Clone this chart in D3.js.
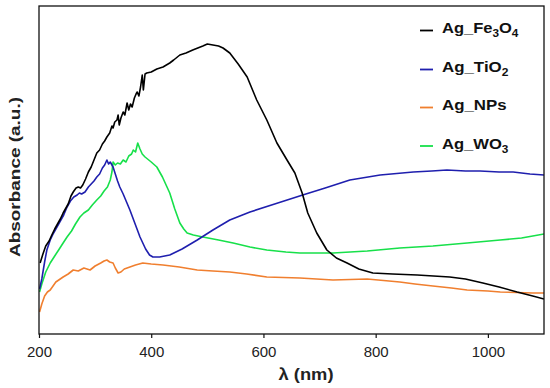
<!DOCTYPE html>
<html>
<head>
<meta charset="utf-8">
<script src="https://cdn.jsdelivr.net/npm/d3@7"></script>
<style>
  html, body { margin: 0; padding: 0; background: #fff; }
  svg { display: block; font-family: "Liberation Sans", Arial, sans-serif; }
</style>
</head>
<body>
<svg id="chart" width="550" height="388"></svg>
<script>
// ---- data (wavelength nm, absorbance a.u.) ----
const xTicks = [200, 400, 600, 800, 1000];
const seriesNames = ["Ag_Fe3O4", "Ag_TiO2", "Ag_NPs", "Ag_WO3"];

const fe3o4 = [[202,0.71],[207,0.80],[212,0.88],[218,0.93],[222,0.98],[228,1.05],[233,1.10],[238,1.15],[243,1.21],[248,1.26],[252,1.30],[257,1.38],[261,1.42],[266,1.46],[270,1.47],[274,1.46],[278,1.49],[283,1.55],[288,1.62],[293,1.67],[298,1.74],[303,1.81],[308,1.84],[313,1.90],[317,1.93],[321,1.97],[326,2.01],[330,2.08],[332,2.06],[335,2.12],[339,2.14],[341,2.19],[343,2.09],[346,2.16],[350,2.22],[353,2.19],[357,2.31],[360,2.24],[363,2.30],[366,2.27],[370,2.36],[373,2.40],[375,2.42],[378,2.38],[381,2.47],[384,2.59],[386,2.44],[389,2.60],[392,2.61],[400,2.62],[410,2.65],[421,2.67],[433,2.71],[440,2.74],[451,2.79],[462,2.81],[474,2.84],[483,2.86],[492,2.88],[500,2.90],[510,2.89],[520,2.88],[528,2.86],[540,2.81],[555,2.70],[571,2.57],[588,2.34],[606,2.14],[624,1.91],[642,1.74],[656,1.61],[669,1.41],[679,1.21],[695,1.01],[713,0.84],[730,0.76],[749,0.71],[770,0.65],[795,0.61],[830,0.60],[874,0.59],[932,0.57],[960,0.55],[991,0.51],[1020,0.47],[1052,0.42],[1080,0.38],[1100,0.35]];

const tio2 = [[201,0.45],[205,0.55],[210,0.72],[214,0.84],[220,0.94],[226,1.01],[232,1.07],[238,1.13],[244,1.19],[250,1.27],[256,1.33],[262,1.37],[268,1.39],[272,1.41],[276,1.40],[282,1.42],[288,1.47],[293,1.50],[298,1.53],[303,1.57],[308,1.60],[313,1.66],[317,1.69],[321,1.74],[324,1.70],[327,1.72],[332,1.67],[336,1.60],[340,1.53],[344,1.47],[350,1.40],[356,1.32],[362,1.24],[370,1.12],[380,0.97],[390,0.85],[397,0.79],[403,0.77],[415,0.77],[433,0.79],[455,0.85],[482,0.94],[510,1.04],[540,1.14],[576,1.22],[620,1.30],[670,1.39],[710,1.46],[754,1.54],[808,1.59],[867,1.62],[900,1.63],[927,1.64],[960,1.63],[986,1.63],[1020,1.62],[1045,1.62],[1075,1.60],[1100,1.59]];

const nps = [[201,0.22],[205,0.30],[210,0.38],[215,0.42],[220,0.44],[230,0.52],[243,0.57],[252,0.60],[261,0.64],[270,0.63],[280,0.66],[291,0.64],[300,0.68],[310,0.71],[316,0.73],[321,0.74],[326,0.72],[332,0.71],[336,0.66],[341,0.61],[346,0.62],[352,0.65],[362,0.67],[372,0.69],[385,0.71],[400,0.70],[421,0.69],[450,0.67],[482,0.64],[510,0.63],[540,0.62],[570,0.60],[606,0.57],[665,0.56],[724,0.54],[785,0.55],[843,0.52],[870,0.50],[902,0.48],[935,0.46],[963,0.44],[1000,0.43],[1022,0.42],[1080,0.41],[1100,0.41]];

const wo3 = [[201,0.42],[205,0.50],[212,0.62],[220,0.71],[228,0.78],[235,0.84],[243,0.91],[250,0.97],[258,1.03],[265,1.10],[273,1.17],[280,1.21],[288,1.24],[295,1.29],[303,1.34],[310,1.38],[316,1.43],[322,1.47],[327,1.54],[330,1.62],[332,1.72],[336,1.69],[340,1.71],[345,1.70],[350,1.74],[355,1.72],[360,1.78],[365,1.80],[368,1.84],[372,1.82],[376,1.91],[380,1.85],[384,1.80],[389,1.77],[400,1.72],[410,1.67],[420,1.57],[433,1.41],[442,1.25],[451,1.11],[458,1.05],[464,1.01],[475,0.99],[492,0.97],[520,0.94],[546,0.91],[576,0.87],[606,0.84],[640,0.82],[665,0.81],[724,0.81],[785,0.83],[843,0.86],[902,0.88],[963,0.91],[1022,0.94],[1060,0.96],[1080,0.98],[1100,1.00]];

// ---- layout ----
const svg = d3.select("#chart");
const L = 39, R = 544, T = 6, B = 334;
const x = d3.scaleLinear().domain([200, 1100]).range([L, R]);
const y = d3.scaleLinear().domain([0, 3.28]).range([B, T]);

svg.append("defs").append("clipPath").attr("id", "clip")
  .append("rect").attr("x", L).attr("y", T).attr("width", R - L).attr("height", B - T);

const line = d3.line().x(d => x(d[0])).y(d => y(d[1]));
const series = [
  { data: nps, color: "#f07f2f" },
  { data: wo3, color: "#17e04a" },
  { data: tio2, color: "#1f1fae" },
  { data: fe3o4, color: "#000000" }
];
const g = svg.append("g").attr("clip-path", "url(#clip)");
series.forEach(s => {
  g.append("path").attr("d", line(s.data)).attr("fill", "none")
    .attr("stroke", s.color).attr("stroke-width", 1.6).attr("stroke-linejoin", "round");
});

// frame
svg.append("rect").attr("x", L).attr("y", T).attr("width", R - L).attr("height", B - T)
  .attr("fill", "none").attr("stroke", "#111").attr("stroke-width", 1.3);

// x axis
const xAxis = d3.axisBottom(x).tickValues(xTicks).tickSize(4).tickPadding(8).tickFormat(d3.format("d"));
const ax = svg.append("g").attr("transform", `translate(0,${B})`).call(xAxis);
ax.select(".domain").remove();
ax.selectAll("line").attr("stroke", "#111").attr("stroke-width", 1.2);
ax.selectAll("text").attr("font-size", 15).attr("fill", "#222")
  .attr("font-family", "Liberation Sans, Arial, sans-serif");

// axis titles
svg.append("text").attr("x", 306).attr("y", 380).attr("text-anchor", "middle")
  .attr("font-size", 16).attr("font-weight", "bold").attr("fill", "#222")
  .attr("textLength", 55).attr("lengthAdjust", "spacingAndGlyphs").text("λ (nm)");
svg.append("text").attr("transform", `translate(20,177) rotate(-90)`)
  .attr("text-anchor", "middle").attr("font-size", 15).attr("font-weight", "bold")
  .attr("fill", "#222").attr("textLength", 160).attr("lengthAdjust", "spacingAndGlyphs")
  .text("Absorbance (a.u.)");

// legend
const legendColors = ["#000000", "#1f1fae", "#f07f2f", "#17e04a"];
const legendBase = [33.5, 72.5, 110.5, 149];
const legendWidths = [77, 67, 65, 67];
const legendParts = [
  [["Ag_Fe", false], ["3", true], ["O", false], ["4", true]],
  [["Ag_TiO", false], ["2", true]],
  [["Ag_NPs", false]],
  [["Ag_WO", false], ["3", true]]
];
const lx = 442;
seriesNames.forEach((name, i) => {
  const by = legendBase[i];
  svg.append("line").attr("x1", 420).attr("x2", 433).attr("y1", by - 3).attr("y2", by - 3)
    .attr("stroke", legendColors[i]).attr("stroke-width", 1.8);
  const t = svg.append("text").attr("x", lx).attr("y", by)
    .attr("font-size", 14).attr("font-weight", "bold").attr("fill", "#111");
  let prevSub = false;
  legendParts[i].forEach(([txt, sub]) => {
    const ts = t.append("tspan").text(txt);
    if (sub) { ts.attr("font-size", 10).attr("dy", prevSub ? 0 : 4); }
    else if (prevSub) { ts.attr("dy", -4); }
    prevSub = sub;
  });
  const w = t.node().getBBox().width;
  const k = legendWidths[i] / w;
  t.attr("transform", `translate(${lx},0) scale(${k},1) translate(${-lx},0)`);
});
</script>
</body>
</html>
